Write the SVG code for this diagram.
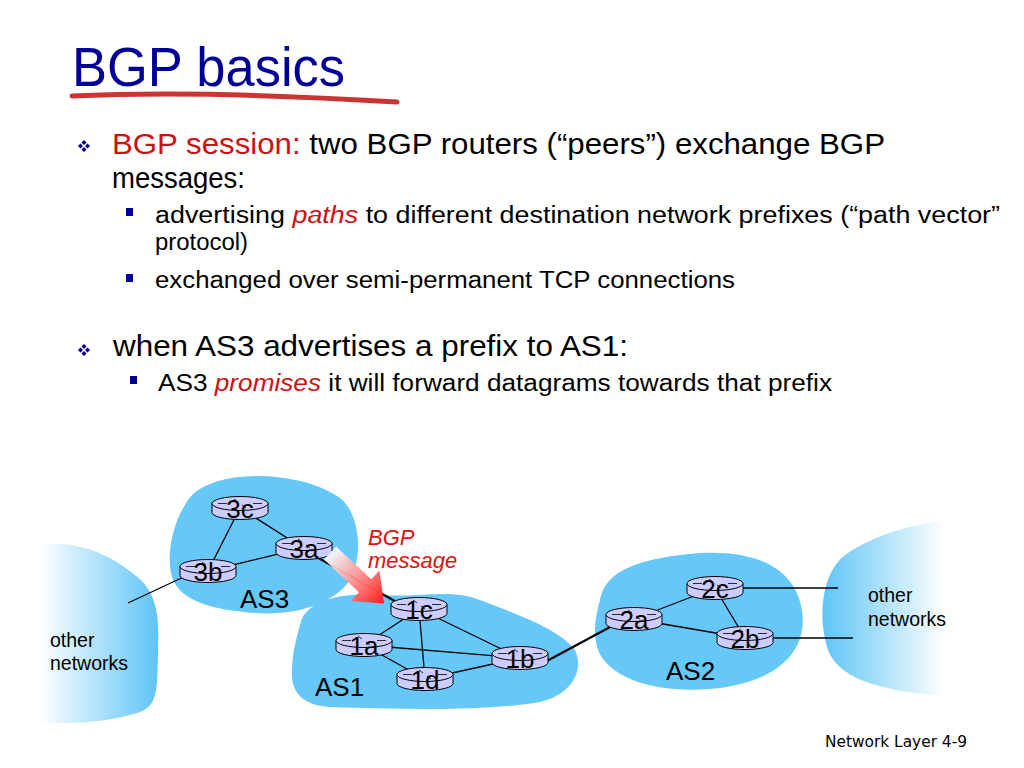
<svg xmlns="http://www.w3.org/2000/svg" width="1024" height="768" viewBox="0 0 1024 768">
<style>
.body{font-family:"Liberation Sans",Arial,sans-serif;fill:#000}
.red{fill:#cc1111}
.lbl{font-family:"Liberation Sans",Arial,sans-serif;font-size:26px;fill:#000;text-anchor:middle}
.as{font-family:"Liberation Sans",Arial,sans-serif;font-size:26px;fill:#000}
.small{font-family:"Liberation Sans",Arial,sans-serif;font-size:19.5px;fill:#000}
.blob{fill:#66c8f8}
.link{stroke:#000;stroke-width:1.3;fill:none}
.thick{stroke:#000;stroke-width:2.2;fill:none}
.rt{fill:#ccccff;stroke:#000;stroke-width:1}
.bul{fill:#000099}
</style>
<defs>
<g id="router">
<path class="rt" d="M-28,-4.5 V4.5 A28,7 0 0 0 28,4.5 V-4.5"/>
<ellipse class="rt" cx="0" cy="-4.5" rx="28" ry="7"/>
<path d="M-22,-4.5 H-13 M13,-4.5 H22 M-6,-9 L-2,-6 M6,0 L2,-3" stroke="#000" stroke-width="0.8" fill="none"/>
</g>
<linearGradient id="gl" gradientUnits="userSpaceOnUse" x1="40" y1="0" x2="158" y2="0">
<stop offset="0" stop-color="#ffffff"/><stop offset="1" stop-color="#5ec4f6"/>
</linearGradient>
<linearGradient id="gr" gradientUnits="userSpaceOnUse" x1="822" y1="0" x2="945" y2="0">
<stop offset="0" stop-color="#5ec4f6"/><stop offset="1" stop-color="#ffffff"/>
</linearGradient>
<linearGradient id="ga" x1="0" y1="0" x2="1" y2="0">
<stop offset="0" stop-color="#ffffff" stop-opacity="0.9"/><stop offset="1" stop-color="#ff1a1a"/>
</linearGradient>
<g id="diamond">
<path d="M0,-6 L2.5,-3.5 L0,-1 L-2.5,-3.5 Z M0,1 L2.5,3.5 L0,6 L-2.5,3.5 Z M-6,0 L-3.5,-2.5 L-1,0 L-3.5,2.5 Z M6,0 L3.5,-2.5 L1,0 L3.5,2.5 Z" class="bul"/>
</g>
</defs>

<g id="title">
<text x="72" y="86" font-family="Liberation Sans, Arial, sans-serif" font-size="56" fill="#000099" textLength="273" lengthAdjust="spacingAndGlyphs">BGP basics</text>
<path d="M72,96 Q200,90 397,102" stroke="#cc3333" stroke-width="5" fill="none" stroke-linecap="round"/>
</g>

<g id="bullets">
<use href="#diamond" x="84" y="146"/>
<text class="body" x="112" y="154" font-size="29" textLength="773" lengthAdjust="spacingAndGlyphs"><tspan class="red">BGP session:</tspan> two BGP routers (“peers”) exchange BGP</text>
<text class="body" x="112" y="188" font-size="29" textLength="133" lengthAdjust="spacingAndGlyphs">messages:</text>
<rect class="bul" x="126" y="208" width="7" height="8"/>
<text class="body" x="155" y="223" font-size="23" textLength="845" lengthAdjust="spacingAndGlyphs">advertising <tspan class="red" font-style="italic">paths</tspan> to different destination network prefixes (“path vector”</text>
<text class="body" x="155" y="250" font-size="23" textLength="93" lengthAdjust="spacingAndGlyphs">protocol)</text>
<rect class="bul" x="126" y="274" width="7" height="8"/>
<text class="body" x="155" y="288" font-size="23" textLength="580" lengthAdjust="spacingAndGlyphs">exchanged over semi-permanent TCP connections</text>
<use href="#diamond" x="84" y="350"/>
<text class="body" x="113" y="356" font-size="29" textLength="515" lengthAdjust="spacingAndGlyphs">when AS3 advertises a prefix to AS1:</text>
<rect class="bul" x="130" y="376" width="7" height="8"/>
<text class="body" x="158" y="391" font-size="23" textLength="674" lengthAdjust="spacingAndGlyphs">AS3 <tspan class="red" font-style="italic">promises</tspan> it will forward datagrams towards that prefix</text>
</g>

<g id="other-left">
<path d="M40,545 C80,540 110,555 135,575 C155,590 160,612 158,650 C157,690 158,705 140,712 C110,722 70,725 40,722 Z" fill="url(#gl)"/>
<text class="small" x="50" y="647">other</text>
<text class="small" x="50" y="670">networks</text>
</g>
<g id="other-right">
<path d="M1000,520 C940,515 880,530 845,555 C820,575 818,620 828,650 C840,680 880,695 1000,700 Z" fill="url(#gr)"/>
<text class="small" x="868" y="602">other</text>
<text class="small" x="868" y="626">networks</text>
</g>

<g id="AS3">
<path class="blob" d="M215,482 C250,470 310,476 340,498 C362,516 362,560 350,580 C335,602 300,616 255,613 C215,610 180,602 172,577 C165,552 175,520 185,505 C192,492 200,488 215,482 Z"/>
<text class="as" x="240" y="608">AS3</text>
</g>
<g id="AS1">
<path class="blob" d="M300,625 C305,600 340,592 380,595 C420,598 450,588 480,600 C520,615 560,630 575,650 C585,672 570,695 540,702 C480,712 400,709 330,707 C300,705 290,690 292,668 C293,650 296,640 300,625 Z"/>
<text class="as" x="315" y="696">AS1</text>
</g>
<g id="AS2">
<path class="blob" d="M600,600 C605,570 640,558 700,553 C760,550 795,570 802,610 C808,650 780,680 720,688 C660,695 610,680 598,650 C592,630 596,615 600,600 Z"/>
<text class="as" x="666" y="680">AS2</text>
</g>

<g id="connectors">
<line class="link" x1="240" y1="508" x2="208" y2="571"/>
<line class="link" x1="240" y1="508" x2="303" y2="548"/>
<line class="link" x1="208" y1="571" x2="303" y2="548"/>
<line class="link" x1="190" y1="574" x2="128" y2="603"/>
<line class="thick" x1="315" y1="556" x2="400" y2="604"/>
<line class="link" x1="419" y1="609" x2="364" y2="645"/>
<line class="link" x1="419" y1="609" x2="425" y2="679"/>
<line class="link" x1="419" y1="609" x2="520" y2="658"/>
<line class="link" x1="364" y1="645" x2="520" y2="658"/>
<line class="link" x1="364" y1="645" x2="425" y2="679"/>
<line class="link" x1="425" y1="679" x2="520" y2="658"/>
<line class="thick" x1="545" y1="662" x2="612" y2="626"/>
<line class="link" x1="634" y1="619" x2="715" y2="588"/>
<line class="link" x1="634" y1="619" x2="745" y2="638"/>
<line class="link" x1="715" y1="588" x2="745" y2="638"/>
<line class="link" x1="740" y1="588" x2="838" y2="588"/>
<line class="link" x1="770" y1="638" x2="853" y2="638"/>
</g>

<g id="router-3c"><use href="#router" x="240" y="508"/><text class="lbl" x="240" y="518">3c</text></g>
<g id="router-3a"><use href="#router" x="304" y="548"/><text class="lbl" x="304" y="558">3a</text></g>
<g id="router-3b"><use href="#router" x="208" y="571"/><text class="lbl" x="208" y="581">3b</text></g>
<g id="router-1c"><use href="#router" x="419" y="609"/><text class="lbl" x="419" y="619">1c</text></g>
<g id="router-1a"><use href="#router" x="364" y="645"/><text class="lbl" x="364" y="655">1a</text></g>
<g id="router-1b"><use href="#router" x="520" y="658"/><text class="lbl" x="520" y="668">1b</text></g>
<g id="router-1d"><use href="#router" x="425" y="679"/><text class="lbl" x="425" y="689">1d</text></g>
<g id="router-2c"><use href="#router" x="715" y="588"/><text class="lbl" x="715" y="598">2c</text></g>
<g id="router-2a"><use href="#router" x="634" y="619"/><text class="lbl" x="634" y="629">2a</text></g>
<g id="router-2b"><use href="#router" x="745" y="638"/><text class="lbl" x="745" y="648">2b</text></g>

<g id="bgp-message">
<polygon transform="translate(330,553) rotate(43)" points="0,-9 48,-9 48,-21 74,0 48,21 48,9 0,9" fill="url(#ga)"/>
<text x="368" y="545" font-family="Liberation Sans, Arial, sans-serif" font-size="22" font-style="italic" fill="#dd1111">BGP</text>
<text x="368" y="568" font-family="Liberation Sans, Arial, sans-serif" font-size="22" font-style="italic" fill="#dd1111">message</text>
</g>

<g id="footer">
<text x="825" y="747" font-family="DejaVu Sans, Verdana, sans-serif" font-size="15" fill="#000" textLength="142" lengthAdjust="spacingAndGlyphs">Network Layer  4-9</text>
</g>
</svg>
